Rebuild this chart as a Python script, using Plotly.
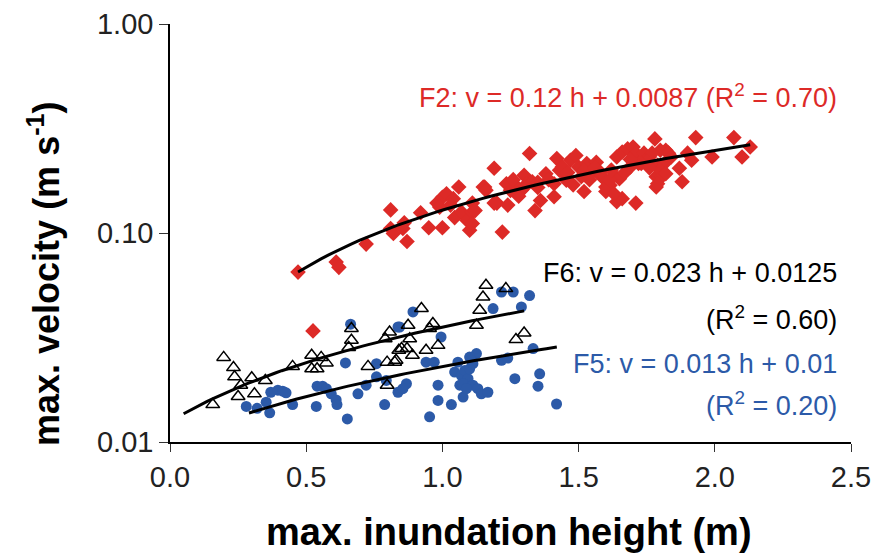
import numpy as np
import plotly.graph_objects as go

# ---- F2 (red diamonds) ----
f2_h = [0.47, 0.61, 0.62, 0.72, 0.81, 0.81, 0.82, 0.86, 0.855, 0.87, 0.92, 0.95, 1.00, 0.98, 1.00,
        1.015, 1.06, 1.04, 1.03, 1.045, 1.07, 1.09, 1.10, 1.11, 1.11, 1.19, 1.155, 1.11, 1.22, 1.235,
        1.25, 1.24, 1.20, 1.30, 1.31, 1.29, 1.34, 1.36, 1.32, 1.38, 1.42, 1.43, 1.41, 1.41, 1.44,
        1.455, 1.47, 1.49, 1.50, 1.51, 1.52, 1.53, 1.55, 1.565, 1.585, 1.60, 1.615, 1.64, 1.66, 1.71,
        1.64, 1.66, 1.68, 1.70, 1.71, 1.63, 1.65, 1.69, 1.74, 1.76, 1.78, 1.79, 1.785, 1.785, 1.82,
        1.815, 1.93, 2.07, 2.13, 2.10, 1.99, 1.87, 1.88, 1.90, 1.915, 1.80, 1.83, 1.84, 1.77, 1.80,
        1.805, 1.79, 1.82, 1.63, 1.60, 1.615, 0.99, 1.12, 1.15, 1.16, 1.19, 1.27, 1.33, 1.46, 1.57,
        1.72, 1.75, 1.35, 1.28, 0.525,
        1.35, 1.39, 1.45, 1.48, 1.52, 1.54, 1.56, 1.58, 1.62, 1.67, 1.69, 1.73, 1.76, 1.30, 1.26]
f2_v = [0.065, 0.0727, 0.0685, 0.0885, 0.129, 0.105, 0.0995, 0.112, 0.105, 0.091, 0.125, 0.106, 0.106, 0.139, 0.148,
        0.154, 0.166, 0.146, 0.136, 0.1185, 0.126, 0.115, 0.103, 0.139, 0.126, 0.204, 0.166, 0.111, 0.101, 0.172,
        0.160, 0.136, 0.139, 0.189, 0.172, 0.160, 0.128, 0.143, 0.240, 0.192, 0.227, 0.1995, 0.172, 0.149, 0.207,
        0.179, 0.223, 0.235, 0.207, 0.186, 0.158, 0.215, 0.196, 0.218, 0.186, 0.158, 0.169, 0.141, 0.146, 0.139,
        0.231, 0.244, 0.253, 0.258, 0.241, 0.189, 0.182, 0.207, 0.241, 0.231, 0.282, 0.211, 0.186, 0.166, 0.249,
        0.215, 0.286, 0.286, 0.258, 0.231, 0.231, 0.204, 0.176, 0.241, 0.223, 0.249, 0.241, 0.231, 0.241, 0.1995,
        0.186, 0.172, 0.192, 0.154, 0.166, 0.179, 0.133, 0.128, 0.166, 0.160, 0.139, 0.168, 0.176, 0.195, 0.200,
        0.215, 0.220, 0.165, 0.150, 0.034,
        0.175, 0.180, 0.190, 0.170, 0.200, 0.180, 0.205, 0.195, 0.200, 0.195, 0.225, 0.215, 0.205, 0.165, 0.180]

# ---- F6 (open triangles) ----
f6_h = [0.197, 0.233, 0.237, 0.26, 0.25, 0.157, 0.30, 0.31, 0.35, 0.45, 0.52, 0.52, 0.54, 0.555, 0.574,
        0.656, 0.666, 0.666, 0.727, 0.797, 0.797, 0.806, 0.79, 0.83, 0.84, 0.825, 0.85, 0.87, 0.88, 0.874,
        0.89, 0.923, 0.94, 0.953, 0.965, 0.984, 1.125, 1.137, 1.149, 1.16, 1.233, 1.27, 1.30]
f6_v = [0.0254, 0.0227, 0.0205, 0.0187, 0.0165, 0.0151, 0.0203, 0.0170, 0.0197, 0.0230, 0.0260, 0.0224, 0.0224, 0.0254, 0.0239,
        0.0283, 0.0349, 0.0307, 0.0230, 0.0187, 0.0241, 0.0336, 0.0312, 0.0246, 0.0275, 0.0241, 0.0280, 0.0280, 0.0312, 0.0362,
        0.0260, 0.0435, 0.0275, 0.0349, 0.0369, 0.0290, 0.0362, 0.0427, 0.0494, 0.0562, 0.0542, 0.0309, 0.0332]

# ---- F5 (blue circles) ----
f5_h = [0.663, 0.644, 0.28, 0.32, 0.366, 0.37, 0.396, 0.414, 0.426, 0.45, 0.353, 0.537, 0.54, 0.56, 0.574,
        0.592, 0.61, 0.613, 0.651, 0.69, 0.72, 0.758, 0.758, 0.788, 0.837, 0.837, 0.892, 0.843, 0.995, 0.794,
        0.868, 0.855, 0.94, 0.97, 0.984, 0.984, 1.033, 0.953, 1.076, 1.045, 1.07, 1.082, 1.094, 1.10, 1.112,
        1.125, 1.10, 1.064, 1.076, 1.112, 1.088, 1.13, 1.143, 1.167, 1.106, 1.057, 1.186, 1.217, 1.26, 1.29,
        1.32, 1.217, 1.24, 1.333, 1.266, 1.357, 1.351, 1.419]
f5_v = [0.0366, 0.0239, 0.0148, 0.0145, 0.0138, 0.0173, 0.0177, 0.0175, 0.0172, 0.0151, 0.0155, 0.0148, 0.0185, 0.0185, 0.0180,
        0.0170, 0.0159, 0.0151, 0.0129, 0.0170, 0.0187, 0.0237, 0.0205, 0.0151, 0.0355, 0.0173, 0.0419, 0.0355, 0.0318, 0.0197,
        0.0190, 0.0180, 0.0241, 0.0241, 0.0187, 0.0158, 0.0151, 0.0132, 0.0164, 0.0216, 0.0208, 0.0220, 0.0201, 0.0224, 0.0237,
        0.0265, 0.0255, 0.0187, 0.0190, 0.0187, 0.0180, 0.0180, 0.0170, 0.0173, 0.0246, 0.0241, 0.0435, 0.0522, 0.0522, 0.0443,
        0.0502, 0.0246, 0.0252, 0.0280, 0.0201, 0.0212, 0.0185, 0.0152]

# ---- regression lines (slope, intercept, h range) ----
f2_fit = (0.12, 0.0087, 0.47, 2.13)
f6_fit = (0.023, 0.0125, 0.05, 1.30)
f5_fit = (0.013, 0.01, 0.29, 1.42)

x_ticks = [0, 0.5, 1.0, 1.5, 2.0, 2.5]
x_ticktext = ["0.0", "0.5", "1.0", "1.5", "2.0", "2.5"]
y_ticks = [0.01, 0.1, 1.0]
y_ticktext = ["0.01", "0.10", "1.00"]

RED = "#dd2a27"
BLUE = "#2c5aa8"

fig = go.Figure()
fig.add_trace(go.Scatter(x=f5_h, y=f5_v, mode="markers",
                         marker=dict(symbol="circle", size=11, color=BLUE, line=dict(width=0))))
fig.add_trace(go.Scatter(x=f6_h, y=f6_v, mode="markers",
                         marker=dict(symbol="triangle-up-open", size=12, color="black", line=dict(width=1.5))))
fig.add_trace(go.Scatter(x=f2_h, y=f2_v, mode="markers",
                         marker=dict(symbol="diamond", size=12, color=RED, line=dict(width=0))))

for a, b, h0, h1 in (f2_fit, f6_fit, f5_fit):
    hh = np.linspace(h0, h1, 60)
    fig.add_trace(go.Scatter(x=hh, y=a * hh + b, mode="lines",
                             line=dict(color="black", width=3)))

font_main = "Liberation Sans, Arial, Helvetica, sans-serif"
ann_font = 27
L, R, T, B = 170, 25, 24, 111
W, H = 876, 553
pw, ph = W - L - R, H - T - B


def px_x(p):
    return (p - L) / pw


def px_y(p):
    return 1 - (p - T) / ph


annots = [
    ("F2: v = 0.12 h + 0.0087 (R<sup>2</sup> = 0.70)", 96, RED),
    ("F6: v = 0.023 h + 0.0125", 273, "black"),
    ("(R<sup>2</sup> = 0.60)", 318, "black"),
    ("F5: v = 0.013 h + 0.01", 364, BLUE),
    ("(R<sup>2</sup> = 0.20)", 404, BLUE),
]
for txt, ypix, col in annots:
    fig.add_annotation(x=px_x(839), y=px_y(ypix), xref="paper", yref="paper",
                       xanchor="right", yanchor="middle", text=txt, showarrow=False,
                       font=dict(size=ann_font, color=col, family=font_main))

# axis titles
fig.add_annotation(x=px_x(509), y=px_y(532), xref="paper", yref="paper",
                   xanchor="center", yanchor="middle", showarrow=False,
                   text="<b>max. inundation height (m)</b>",
                   font=dict(size=38, color="black", family=font_main))
fig.add_annotation(x=px_x(44), y=px_y(274), xref="paper", yref="paper",
                   xanchor="center", yanchor="middle", showarrow=False, textangle=-90,
                   text="<b>max. velocity (m s<sup>-1</sup>)</b>",
                   font=dict(size=36, color="black", family=font_main))

fig.update_layout(
    width=W, height=H,
    margin=dict(l=L, r=R, t=T, b=B, autoexpand=False),
    plot_bgcolor="white", paper_bgcolor="white",
    showlegend=False,
    font=dict(family=font_main, color="black"),
    xaxis=dict(range=[0, 2.5], tickvals=x_ticks, ticktext=x_ticktext,
               showline=True, linecolor="black", linewidth=1.5, showgrid=False, zeroline=False,
               ticks="outside", ticklen=8, tickwidth=1.2, tickcolor="#333",
               tickfont=dict(size=29, color="#222")),
    yaxis=dict(type="log", range=[-2, 0], tickvals=y_ticks, ticktext=y_ticktext,
               showline=True, linecolor="black", linewidth=1.5, showgrid=False, zeroline=False,
               ticks="outside", ticklen=9, tickwidth=1.2, tickcolor="#333",
               tickfont=dict(size=29, color="#222")),
)

fig.write_html("out.html", config={"displayModeBar": False},
               post_script="document.body.style.margin='0';document.body.style.padding='0';")
